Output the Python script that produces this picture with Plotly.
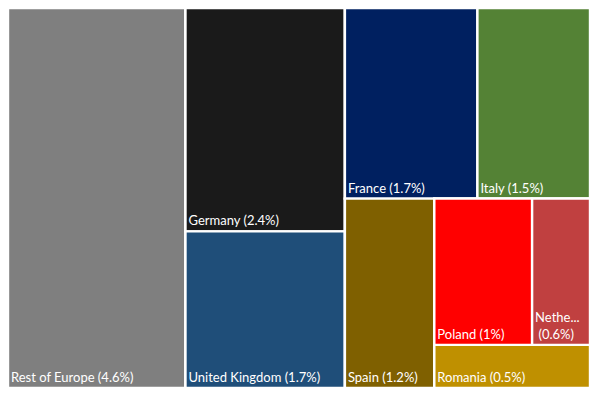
import plotly.graph_objects as go

countries = ["Rest of Europe", "Germany", "United Kingdom", "France", "Italy",
             "Spain", "Poland", "Netherlands", "Romania"]
# shares estimated from tile areas (labels show the rounded values)
shares = [4.62, 2.44, 1.71, 1.73, 1.47, 1.16, 0.98, 0.58, 0.46]
labels_txt = ["Rest of Europe (4.6%)", "Germany (2.4%)", "United Kingdom (1.7%)",
              "France (1.7%)", "Italy (1.5%)", "Spain (1.2%)", "Poland (1%)",
              "Nethe...<br>\u00a0(0.6%)", "Romania (0.5%)"]
colors = ["#7f7f7f", "#1a1a1a", "#1f4e79", "#002060", "#548235",
          "#7f6000", "#ff0000", "#c04040", "#bf9000"]

# invisible grouping used only to reproduce the tile arrangement
country_parent = ["g0", "gB", "gB", "gTop", "gTop", "gBot", "gPN", "gPN", "gPR"]
group_ids = ["g0", "gB", "gC", "gTop", "gBot", "gPR", "gPN"]
group_parents = ["", "g0", "g0", "gC", "gC", "gBot", "gPR"]
node_order = ["g0", "Rest of Europe", "gB", "Germany", "United Kingdom", "gC",
              "gTop", "France", "Italy", "gBot", "Spain", "gPR", "gPN",
              "Poland", "Netherlands", "Romania"]

info = {}
for g, p in zip(group_ids, group_parents):
    info[g] = (p, 0, "", "white")
for c, p, v, t, col in zip(countries, country_parent, shares, labels_txt, colors):
    info[c] = (p, v, t, col)

ids = node_order
parents = [info[n][0] for n in ids]
values = [info[n][1] for n in ids]
texts = [info[n][2] for n in ids]
cols = [info[n][3] for n in ids]

fig = go.Figure(go.Treemap(
    ids=ids,
    labels=ids,
    parents=parents,
    values=values,
    branchvalues="remainder",
    text=texts,
    texttemplate="%{text}",
    textposition="bottom left",
    textfont=dict(family="Lato", size=13, color="white"),
    marker=dict(colors=cols, line=dict(width=2.4, color="white"),
                pad=dict(t=0, l=0, r=0, b=0)),
    tiling=dict(packing="slice-dice", pad=0),
    pathbar=dict(visible=False),
    sort=False,
    hoverinfo="label+value",
))
fig.update_layout(
    width=599, height=398,
    margin=dict(l=0, r=17, t=0, b=18),
    paper_bgcolor="white",
)
fig.write_html("out.html")
